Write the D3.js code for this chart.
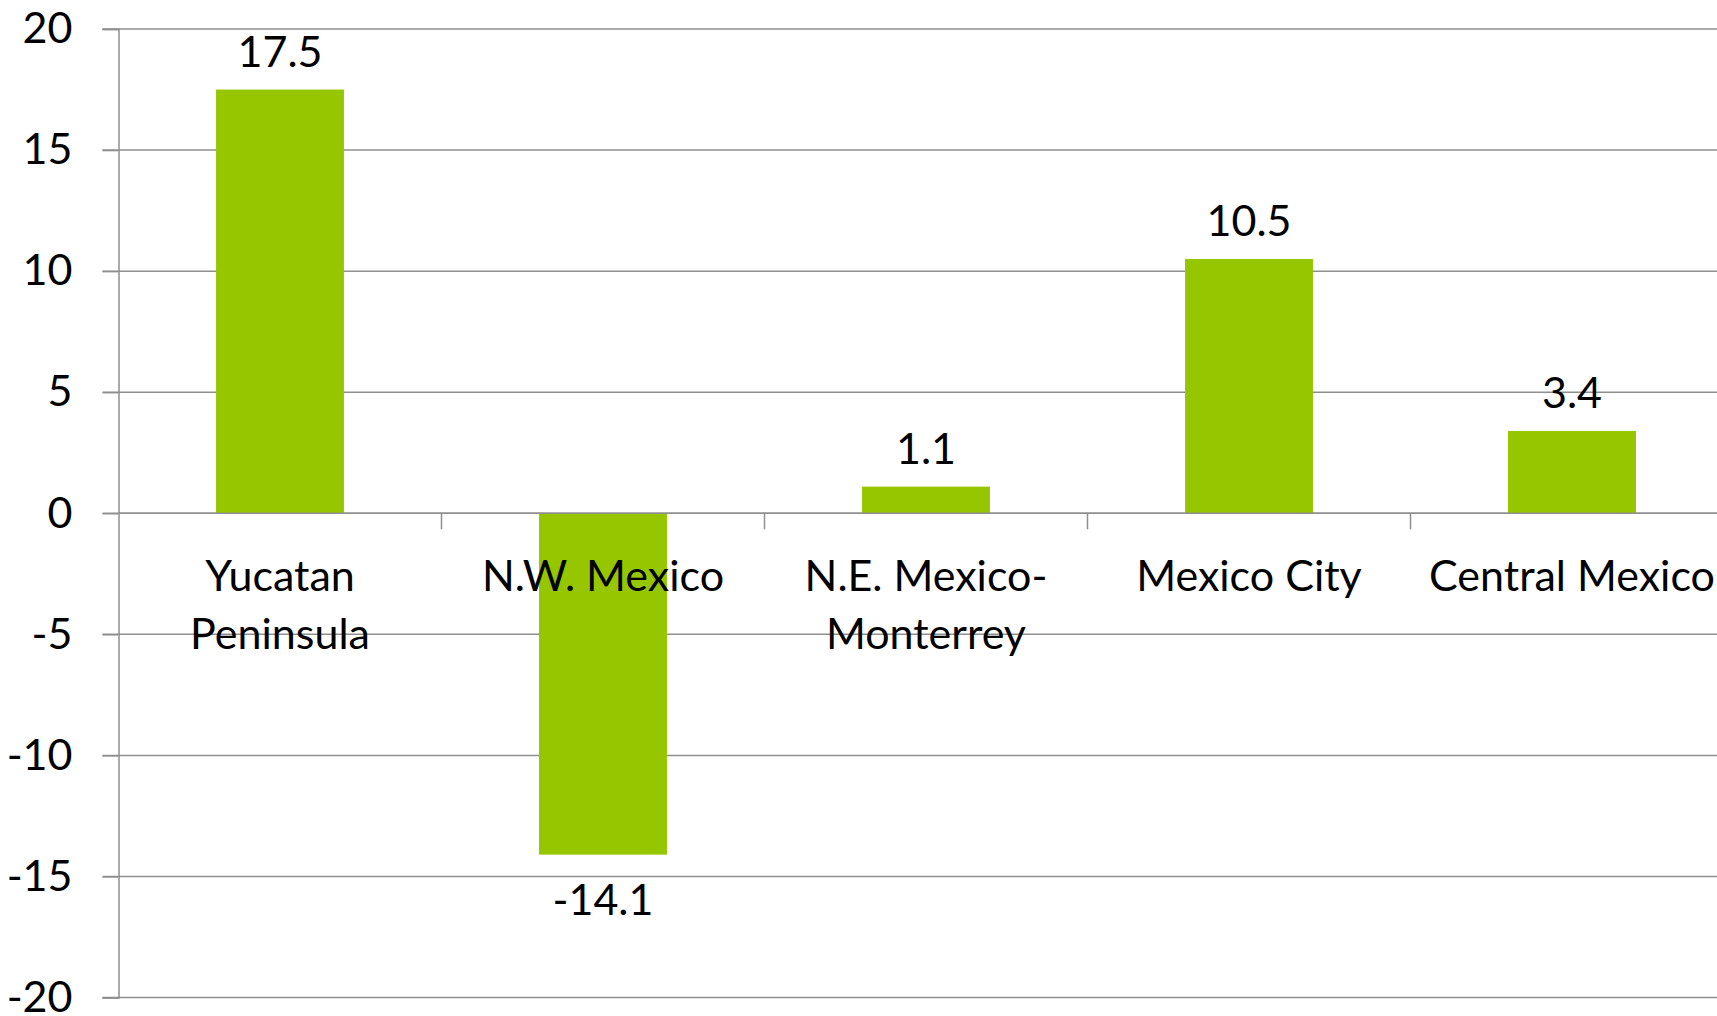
<!DOCTYPE html>
<html><head><meta charset="utf-8">
<script src="https://cdn.jsdelivr.net/npm/d3@7"></script>
<style>html,body{margin:0;padding:0;background:#fff;overflow:hidden}svg{display:block}</style>
</head><body>
<svg id="chart" width="1717" height="1016"></svg>
<script>
const categories = [["Yucatan","Peninsula"],["N.W. Mexico"],["N.E. Mexico-","Monterrey"],["Mexico City"],["Central Mexico"]];
const values = [17.5, -14.1, 1.1, 10.5, 3.4];
const yTicks = [20, 15, 10, 5, 0, -5, -10, -15, -20];

(function () {
const svg = d3.select("#chart");
const mLeft = 118.5, mTop = 29, mBottom = 997.5, band = 323;
const font = "Lato, 'Noto Sans', sans-serif";
const fs = 43;
const grid = "#8f8f8f";
const loc = d3.formatLocale({decimal: ".", thousands: ",", grouping: [3], currency: ["", ""], minus: "-"});

const x = d3.scaleBand().domain(d3.range(categories.length)).range([mLeft, mLeft + band * categories.length]).paddingInner(0.604).paddingOuter(0.302);
const y = d3.scaleLinear().domain([-20, 20]).range([mBottom, mTop]);

svg.append("g").selectAll("line").data(yTicks).join("line")
  .attr("x1", mLeft - 16).attr("x2", 1717)
  .attr("y1", d => y(d)).attr("y2", d => y(d))
  .attr("stroke", grid).attr("stroke-width", 1.5);

const yAxis = d3.axisLeft(y).tickValues(yTicks).tickSize(16).tickPadding(30).tickFormat(loc.format("d"));
const ga = svg.append("g").attr("transform", `translate(${mLeft},0)`).call(yAxis);
ga.select(".domain").attr("stroke", grid).attr("stroke-width", 1.5);
ga.selectAll(".tick line").attr("stroke", grid).attr("stroke-width", 1.5);
ga.selectAll(".tick text").attr("font-family", font).attr("font-size", fs).attr("fill", "#000");

svg.append("g").selectAll("rect").data(values).join("rect")
  .attr("x", (d, i) => x(i)).attr("width", x.bandwidth())
  .attr("y", d => y(Math.max(0, d))).attr("height", d => Math.abs(y(d) - y(0)))
  .attr("fill", "#95c600");

svg.append("line").attr("x1", mLeft).attr("x2", 1717).attr("y1", y(0)).attr("y2", y(0)).attr("stroke", grid).attr("stroke-width", 1.5);
svg.append("g").selectAll("line").data(d3.range(1, categories.length + 1)).join("line")
  .attr("x1", i => mLeft + band * i).attr("x2", i => mLeft + band * i)
  .attr("y1", y(0)).attr("y2", y(0) + 16)
  .attr("stroke", grid).attr("stroke-width", 1.5);

const cl = svg.append("g").selectAll("text").data(categories).join("text")
  .attr("x", (d, i) => x(i) + x.bandwidth() / 2).attr("y", y(0) + 78)
  .attr("text-anchor", "middle").attr("font-family", font).attr("font-size", fs).attr("fill", "#000");
cl.selectAll("tspan").data(d => d).join("tspan")
  .attr("x", function() { return this.parentNode.getAttribute("x"); })
  .attr("dy", (d, j) => j === 0 ? 0 : 58).text(d => d);

svg.append("g").selectAll("text").data(values).join("text")
  .attr("x", (d, i) => x(i) + x.bandwidth() / 2)
  .attr("y", d => d >= 0 ? y(d) - 23 : y(d) + 60)
  .attr("text-anchor", "middle").attr("font-family", font).attr("font-size", fs).attr("fill", "#000")
  .text(d => loc.format(".1f")(d));
})();
</script>
</body></html>
